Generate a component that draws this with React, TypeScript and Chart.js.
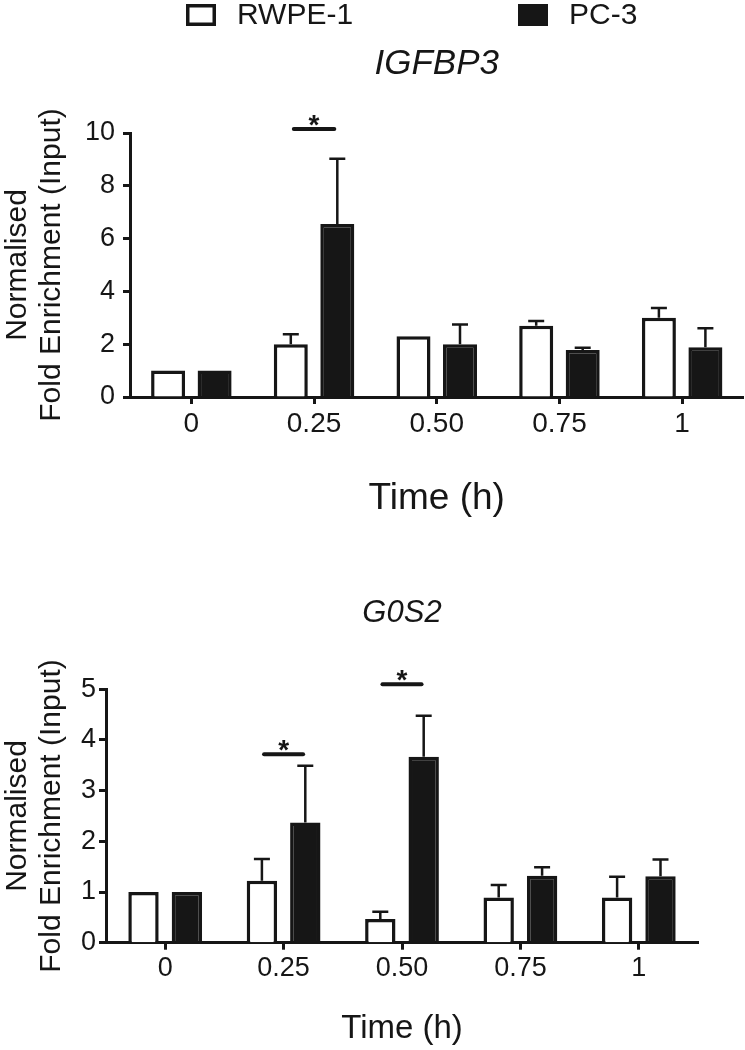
import React, { useEffect, useRef } from 'react';
import { Chart, registerables } from 'chart.js';

Chart.register(...registerables);

const FONT = "'Liberation Sans', Arial, Helvetica, sans-serif";
const INK = '#161616';

// ---------- data ----------
const timeLabels = ['0', '0.25', '0.50', '0.75', '1'];
const seriesNames = ['RWPE-1', 'PC-3'];
const yTitleLines = ['Normalised', 'Fold Enrichment (Input)'];
const xTitle = 'Time (h)';

const igfbp3Title = 'IGFBP3';
const igfbp3Rwpe = [1.0, 2.0, 2.3, 2.7, 3.0];
const igfbp3RwpeErr = [0, 0.38, 0, 0.18, 0.37];
const igfbp3Pc3 = [1.0, 6.55, 2.0, 1.78, 1.88];
const igfbp3Pc3Err = [0, 2.47, 0.75, 0.09, 0.72];
const igfbp3Ticks = [0, 2, 4, 6, 8, 10];
const igfbp3SigIndex = [1];
const igfbp3SigLevel = [10.15];

const g0s2Title = 'G0S2';
const g0s2Rwpe = [1.0, 1.22, 0.47, 0.89, 0.89];
const g0s2RwpeErr = [0, 0.43, 0.14, 0.25, 0.41];
const g0s2Pc3 = [1.0, 2.37, 3.67, 1.32, 1.31];
const g0s2Pc3Err = [0, 1.12, 0.81, 0.17, 0.33];
const g0s2Ticks = [0, 1, 2, 3, 4, 5];
const g0s2SigIndex = [1, 2];
const g0s2SigLevel = [3.72, 5.1];

// ---------- plugin: error bars, significance, title, legend ----------
const decorPlugin = {
  id: 'decor',
  afterDatasetsDraw(chart: any, _args: any, opts: any) {
    const ctx = chart.ctx;
    const ys = chart.scales.y;
    const xs = chart.scales.x;
    const area = chart.chartArea;
    ctx.save();
    // error bars (upper only)
    ctx.strokeStyle = INK;
    ctx.lineWidth = 2.5;
    ctx.lineCap = 'butt';
    chart.data.datasets.forEach((ds: any, di: number) => {
      const errs = opts.errors[di];
      const meta = chart.getDatasetMeta(di);
      meta.data.forEach((bar: any, i: number) => {
        const e = errs[i];
        if (!e) return;
        const v = ds.data[i];
        const yBar = ys.getPixelForValue(v);
        const yTop = ys.getPixelForValue(v + e);
        ctx.beginPath();
        ctx.moveTo(bar.x, yBar);
        ctx.lineTo(bar.x, yTop);
        ctx.moveTo(bar.x - 8, yTop);
        ctx.lineTo(bar.x + 8, yTop);
        ctx.stroke();
      });
    });
    // significance bars
    const catW = xs.getPixelForValue(1) - xs.getPixelForValue(0);
    opts.sigIndex.forEach((idx: number, k: number) => {
      const cx = xs.getPixelForValue(idx);
      const y = ys.getPixelForValue(opts.sigLevel[k]);
      ctx.lineWidth = 4;
      ctx.lineCap = 'round';
      ctx.beginPath();
      ctx.moveTo(cx - 0.165 * catW, y);
      ctx.lineTo(cx + 0.165 * catW, y);
      ctx.stroke();
      ctx.fillStyle = INK;
      ctx.font = `bold 28px ${FONT}`;
      ctx.textAlign = 'center';
      ctx.textBaseline = 'alphabetic';
      ctx.fillText('*', cx, y + 5);
    });
    // chart title (italic gene name)
    ctx.fillStyle = INK;
    ctx.font = `italic ${opts.titleSize}px ${FONT}`;
    ctx.textAlign = 'center';
    ctx.textBaseline = 'alphabetic';
    ctx.fillText(opts.title, (area.left + area.right) / 2, opts.titleBaseline);
    // legend
    if (opts.legend) {
      ctx.font = `30px ${FONT}`;
      ctx.textAlign = 'left';
      ctx.textBaseline = 'middle';
      const boxX = [186, 518];
      chart.data.datasets.forEach((ds: any, di: number) => {
        const bx = boxX[di];
        ctx.fillStyle = ds.backgroundColor;
        ctx.fillRect(bx, 4, 30, 22);
        ctx.lineWidth = 3.5;
        ctx.lineCap = 'butt';
        ctx.strokeStyle = INK;
        ctx.strokeRect(bx + 1.75, 5.75, 26.5, 18.5);
        ctx.fillStyle = INK;
        ctx.fillText(ds.label, bx + 51, 16);
      });
    }
    ctx.restore();
  },
};

function makeConfig(p: any) {
  const ticks = p.ticks;
  return {
    type: 'bar',
    data: {
      labels: timeLabels,
      datasets: [
        {
          label: seriesNames[0],
          data: p.rwpe,
          backgroundColor: '#ffffff',
          borderColor: INK,
          borderWidth: 3.5,
          borderSkipped: 'bottom',
          categoryPercentage: p.cp,
          barPercentage: p.bp,
        },
        {
          label: seriesNames[1],
          data: p.pc3,
          backgroundColor: INK,
          borderColor: INK,
          borderWidth: 3.5,
          borderSkipped: 'bottom',
          categoryPercentage: p.cp,
          barPercentage: p.bp,
        },
      ],
    },
    options: {
      responsive: false,
      animation: false,
      events: [],
      devicePixelRatio: 1,
      layout: { padding: { top: p.padTop, left: 0, right: p.padRight, bottom: 0 } },
      plugins: {
        legend: { display: false },
        title: { display: false },
        tooltip: { enabled: false },
        decor: {
          errors: [p.rwpeErr, p.pc3Err],
          sigIndex: p.sigIndex,
          sigLevel: p.sigLevel,
          title: p.title,
          titleSize: p.titleSize,
          titleBaseline: p.titleBaseline,
          legend: p.legend,
        },
      },
      scales: {
        x: {
          offset: true,
          grid: {
            display: true,
            drawOnChartArea: false,
            drawTicks: true,
            tickLength: 7,
            tickWidth: 3,
            tickColor: INK,
            offset: false,
          },
          border: { display: true, color: INK, width: 3 },
          ticks: { color: INK, font: { size: p.xTickSize, family: FONT }, padding: 3, maxRotation: 0 },
          title: {
            display: true,
            text: xTitle,
            color: INK,
            font: { size: p.xTitleSize, family: FONT },
            padding: { top: 0, bottom: p.xTitlePad },
          },
          afterFit: (s: any) => {
            s.height = p.xHeight;
          },
        },
        y: {
          min: ticks[0],
          max: ticks[ticks.length - 1],
          ticks: {
            stepSize: ticks[1] - ticks[0],
            color: INK,
            font: { size: 27, family: FONT },
            padding: p.yTickPad,
          },
          grid: {
            display: true,
            drawOnChartArea: false,
            drawTicks: true,
            tickLength: 7,
            tickWidth: 3,
            tickColor: INK,
          },
          border: { display: true, color: INK, width: 3 },
          title: {
            display: true,
            text: yTitleLines,
            color: INK,
            font: { size: 30, family: FONT, lineHeight: 1.15 },
            padding: { top: 0, bottom: 0 },
          },
          afterFit: (s: any) => {
            s.width = p.yWidth;
          },
        },
      },
    },
    plugins: [decorPlugin],
  };
}

function ChartCanvas({ params, top, height }: any) {
  const ref = useRef<HTMLCanvasElement | null>(null);
  useEffect(() => {
    if (!ref.current) return;
    const chart = new Chart(ref.current, makeConfig(params) as any);
    return () => chart.destroy();
  }, []);
  return (
    <canvas
      ref={ref}
      width={745}
      height={height}
      style={{ position: 'absolute', left: 0, top, width: 745, height }}
    />
  );
}

const topParams = {
  rwpe: igfbp3Rwpe,
  rwpeErr: igfbp3RwpeErr,
  pc3: igfbp3Pc3,
  pc3Err: igfbp3Pc3Err,
  ticks: igfbp3Ticks,
  sigIndex: igfbp3SigIndex,
  sigLevel: igfbp3SigLevel,
  title: igfbp3Title,
  titleSize: 35,
  titleBaseline: 74,
  legend: true,
  cp: 0.758,
  bp: 0.731,
  padTop: 133,
  padRight: 1.5,
  xHeight: 143,
  yWidth: 130,
  yTickPad: 8,
  xTickSize: 28,
  xTitleSize: 37,
  xTitlePad: 19,
};

const bottomParams = {
  rwpe: g0s2Rwpe,
  rwpeErr: g0s2RwpeErr,
  pc3: g0s2Pc3,
  pc3Err: g0s2Pc3Err,
  ticks: g0s2Ticks,
  sigIndex: g0s2SigIndex,
  sigLevel: g0s2SigLevel,
  title: g0s2Title,
  titleSize: 31,
  titleBaseline: 62,
  legend: false,
  cp: 0.733,
  bp: 0.7,
  padTop: 129.3,
  padRight: 47,
  xHeight: 107.3,
  yWidth: 106,
  yTickPad: 3,
  xTickSize: 27,
  xTitleSize: 33,
  xTitlePad: 1,
};

export default function App() {
  return (
    <div style={{ position: 'absolute', left: 0, top: 0, width: 745, height: 1050, background: '#fff' }}>
      <ChartCanvas params={topParams} top={0} height={540} />
      <ChartCanvas params={bottomParams} top={560} height={490} />
    </div>
  );
}
